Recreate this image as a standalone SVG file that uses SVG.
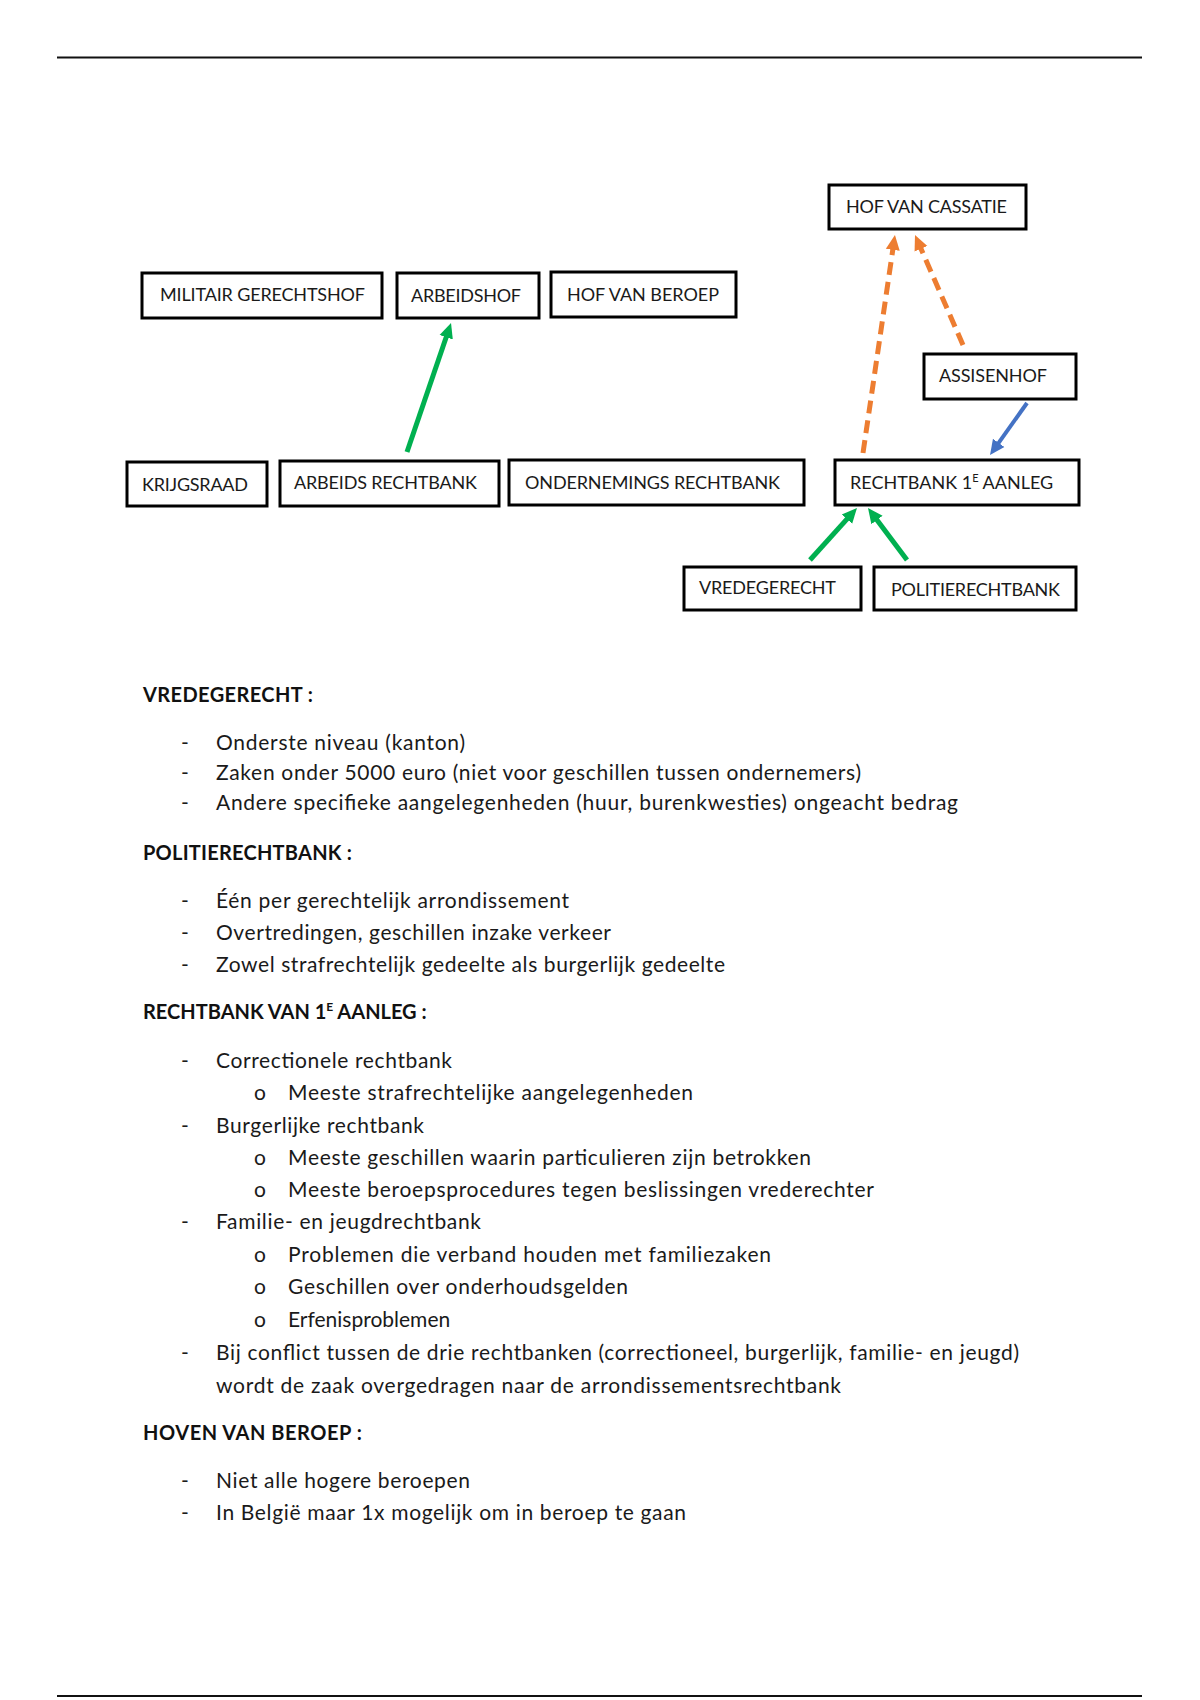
<svg xmlns="http://www.w3.org/2000/svg" width="1200" height="1700" viewBox="0 0 1200 1700">
<style>
.box{fill:#fff;stroke:#000;stroke-width:3}
.lbl{font-family:Lato,"Liberation Sans",sans-serif;font-size:18px;fill:#1a1a1a}
.h{font-family:Lato,"Liberation Sans",sans-serif;font-size:20px;font-weight:bold;fill:#111}
.t{font-family:Lato,"Liberation Sans",sans-serif;font-size:21px;fill:#1a1a1a}
.rule{stroke:#111;stroke-width:2}
.or{fill:none;stroke:#ED7D31;stroke-width:5;stroke-dasharray:13 7}
.gr{fill:none;stroke:#00B050;stroke-width:5}
.bl{fill:none;stroke:#4472C4;stroke-width:4}
</style>
<defs>
<marker id="mo" markerUnits="userSpaceOnUse" markerWidth="18" markerHeight="18" refX="5" refY="8" orient="auto"><path d="M0,1 L15,8 L0,15 z" fill="#ED7D31"/></marker>
<marker id="mg" markerUnits="userSpaceOnUse" markerWidth="18" markerHeight="18" refX="5" refY="8" orient="auto"><path d="M0,1 L15,8 L0,15 z" fill="#00B050"/></marker>
<marker id="mb" markerUnits="userSpaceOnUse" markerWidth="18" markerHeight="18" refX="5" refY="8" orient="auto"><path d="M0,1 L15,8 L0,15 z" fill="#4472C4"/></marker>
</defs>
<rect width="1200" height="1700" fill="#fff"/>
<line class="rule" x1="57" y1="57.5" x2="1142" y2="57.5"/>
<line class="rule" x1="57" y1="1696" x2="1142" y2="1696"/>

<g id="connectors">
<line class="or" x1="863" y1="453" x2="893.5" y2="244.9" marker-end="url(#mo)"/>
<line class="or" x1="963" y1="345" x2="919" y2="244.2" marker-end="url(#mo)"/>
<line class="bl" x1="1027" y1="403" x2="995.8" y2="446.9" marker-end="url(#mb)"/>
<line class="gr" x1="810" y1="560" x2="850.3" y2="515.4" marker-end="url(#mg)"/>
<line class="gr" x1="907" y1="560" x2="874" y2="516" marker-end="url(#mg)"/>
<line class="gr" x1="407" y1="452" x2="447.8" y2="332.5" marker-end="url(#mg)"/>
</g>

<g id="n-militair"><rect class="box" x="142" y="273" width="240" height="45"/><text class="lbl" x="160" y="301" textLength="205">MILITAIR GERECHTSHOF</text></g>
<g id="n-arbeidshof"><rect class="box" x="397" y="273" width="142" height="45"/><text class="lbl" x="411" y="302" textLength="110">ARBEIDSHOF</text></g>
<g id="n-hofberoep"><rect class="box" x="551" y="272" width="185" height="45"/><text class="lbl" x="567" y="301" textLength="152">HOF VAN BEROEP</text></g>
<g id="n-cassatie"><rect class="box" x="829" y="185" width="197" height="44"/><text class="lbl" x="846" y="213" textLength="161">HOF VAN CASSATIE</text></g>
<g id="n-assisenhof"><rect class="box" x="924" y="354" width="152" height="45"/><text class="lbl" x="939" y="382" textLength="108">ASSISENHOF</text></g>
<g id="n-krijgsraad"><rect class="box" x="127" y="462" width="140" height="44"/><text class="lbl" x="142" y="491" textLength="106">KRIJGSRAAD</text></g>
<g id="n-arbeidsrb"><rect class="box" x="280" y="461" width="219" height="45"/><text class="lbl" x="294" y="489" textLength="183">ARBEIDS RECHTBANK</text></g>
<g id="n-ondernemings"><rect class="box" x="509" y="460" width="295" height="45"/><text class="lbl" x="525" y="489" textLength="255">ONDERNEMINGS RECHTBANK</text></g>
<g id="n-rb1"><rect class="box" x="835" y="460" width="244" height="45"/><text class="lbl" x="850" y="489">RECHTBANK 1<tspan font-size="11" dy="-7">E</tspan><tspan dy="7"> AANLEG</tspan></text></g>
<g id="n-vredegerecht"><rect class="box" x="684" y="567" width="177" height="43"/><text class="lbl" x="699" y="594" textLength="137">VREDEGERECHT</text></g>
<g id="n-politie"><rect class="box" x="874" y="567" width="202" height="43"/><text class="lbl" x="891" y="596" textLength="169">POLITIERECHTBANK</text></g>

<g id="body">
<text class="h" x="143" y="702" textLength="170">VREDEGERECHT :</text>
<text class="t" x="181" y="750">-</text><text class="t" x="216" y="750" textLength="249">Onderste niveau (kanton)</text>
<text class="t" x="181" y="780">-</text><text class="t" x="216" y="780" textLength="645">Zaken onder 5000 euro (niet voor geschillen tussen ondernemers)</text>
<text class="t" x="181" y="810">-</text><text class="t" x="216" y="810" textLength="742">Andere specifieke aangelegenheden (huur, burenkwesties) ongeacht bedrag</text>

<text class="h" x="143" y="860" textLength="209">POLITIERECHTBANK :</text>
<text class="t" x="181" y="908">-</text><text class="t" x="216" y="908" textLength="353">Één per gerechtelijk arrondissement</text>
<text class="t" x="181" y="940">-</text><text class="t" x="216" y="940" textLength="395">Overtredingen, geschillen inzake verkeer</text>
<text class="t" x="181" y="972">-</text><text class="t" x="216" y="972" textLength="509">Zowel strafrechtelijk gedeelte als burgerlijk gedeelte</text>

<text class="h" x="143" y="1019">RECHTBANK VAN 1<tspan font-size="12" dy="-8">E</tspan><tspan dy="8"> AANLEG :</tspan></text>
<text class="t" x="181" y="1068">-</text><text class="t" x="216" y="1068" textLength="236">Correctionele rechtbank</text>
<text class="t" x="254" y="1100">o</text><text class="t" x="288" y="1100" textLength="405">Meeste strafrechtelijke aangelegenheden</text>
<text class="t" x="181" y="1133">-</text><text class="t" x="216" y="1133" textLength="208">Burgerlijke rechtbank</text>
<text class="t" x="254" y="1165">o</text><text class="t" x="288" y="1165" textLength="523">Meeste geschillen waarin particulieren zijn betrokken</text>
<text class="t" x="254" y="1197">o</text><text class="t" x="288" y="1197" textLength="586">Meeste beroepsprocedures tegen beslissingen vrederechter</text>
<text class="t" x="181" y="1229">-</text><text class="t" x="216" y="1229" textLength="265">Familie- en jeugdrechtbank</text>
<text class="t" x="254" y="1262">o</text><text class="t" x="288" y="1262" textLength="483">Problemen die verband houden met familiezaken</text>
<text class="t" x="254" y="1294">o</text><text class="t" x="288" y="1294" textLength="340">Geschillen over onderhoudsgelden</text>
<text class="t" x="254" y="1327">o</text><text class="t" x="288" y="1327">Erfenisproblemen</text>
<text class="t" x="181" y="1360">-</text><text class="t" x="216" y="1360" textLength="803">Bij conflict tussen de drie rechtbanken (correctioneel, burgerlijk, familie- en jeugd)</text>
<text class="t" x="216" y="1393" textLength="625">wordt de zaak overgedragen naar de arrondissementsrechtbank</text>

<text class="h" x="143" y="1440" textLength="219">HOVEN VAN BEROEP :</text>
<text class="t" x="181" y="1488">-</text><text class="t" x="216" y="1488" textLength="254">Niet alle hogere beroepen</text>
<text class="t" x="181" y="1520">-</text><text class="t" x="216" y="1520" textLength="470">In België maar 1x mogelijk om in beroep te gaan</text>
</g>
</svg>
